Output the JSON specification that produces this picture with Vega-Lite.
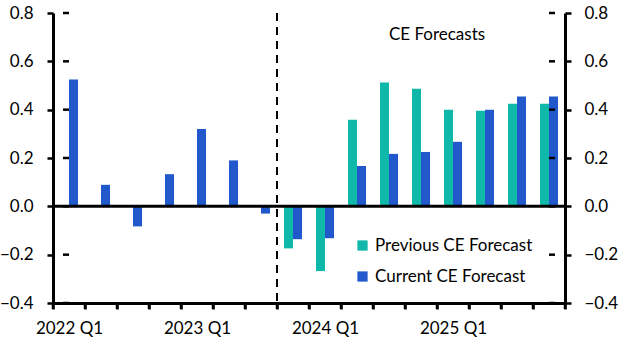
{
  "$schema": "https://vega.github.io/schema/vega-lite/v6.json",
  "width": 512,
  "height": 290,
  "autosize": "none",
  "padding": {"left": 53, "top": 13, "right": 64, "bottom": 51},
  "background": "white",
  "config": {
    "font": "Lato",
    "view": {"stroke": null},
    "axis": {"grid": false, "title": null, "ticks": true, "domain": true, "zindex": 1, "labelFont": "Lato", "labelFontSize": 17, "labelColor": "black", "domainColor": "black", "domainWidth": 3, "tickColor": "black", "tickWidth": 2.5, "tickOpacity": 1}
  },
  "datasets": {
    "bars": [
      {"quarter": "2022 Q1", "series": "Current CE Forecast", "value": 0.525},
      {"quarter": "2022 Q2", "series": "Current CE Forecast", "value": 0.089},
      {"quarter": "2022 Q3", "series": "Current CE Forecast", "value": -0.083},
      {"quarter": "2022 Q4", "series": "Current CE Forecast", "value": 0.133},
      {"quarter": "2023 Q1", "series": "Current CE Forecast", "value": 0.32},
      {"quarter": "2023 Q2", "series": "Current CE Forecast", "value": 0.19},
      {"quarter": "2023 Q3", "series": "Current CE Forecast", "value": -0.03},
      {"quarter": "2023 Q4", "series": "Previous CE Forecast", "value": -0.174},
      {"quarter": "2023 Q4", "series": "Current CE Forecast", "value": -0.136},
      {"quarter": "2024 Q1", "series": "Previous CE Forecast", "value": -0.268},
      {"quarter": "2024 Q1", "series": "Current CE Forecast", "value": -0.132},
      {"quarter": "2024 Q2", "series": "Previous CE Forecast", "value": 0.358},
      {"quarter": "2024 Q2", "series": "Current CE Forecast", "value": 0.167},
      {"quarter": "2024 Q3", "series": "Previous CE Forecast", "value": 0.512},
      {"quarter": "2024 Q3", "series": "Current CE Forecast", "value": 0.217},
      {"quarter": "2024 Q4", "series": "Previous CE Forecast", "value": 0.487},
      {"quarter": "2024 Q4", "series": "Current CE Forecast", "value": 0.225},
      {"quarter": "2025 Q1", "series": "Previous CE Forecast", "value": 0.4},
      {"quarter": "2025 Q1", "series": "Current CE Forecast", "value": 0.267},
      {"quarter": "2025 Q2", "series": "Previous CE Forecast", "value": 0.396},
      {"quarter": "2025 Q2", "series": "Current CE Forecast", "value": 0.4},
      {"quarter": "2025 Q3", "series": "Previous CE Forecast", "value": 0.425},
      {"quarter": "2025 Q3", "series": "Current CE Forecast", "value": 0.454},
      {"quarter": "2025 Q4", "series": "Previous CE Forecast", "value": 0.425},
      {"quarter": "2025 Q4", "series": "Current CE Forecast", "value": 0.454}
    ],
    "quarters": [
      {"quarter": "2022 Q1"}, {"quarter": "2022 Q2"}, {"quarter": "2022 Q3"}, {"quarter": "2022 Q4"},
      {"quarter": "2023 Q1"}, {"quarter": "2023 Q2"}, {"quarter": "2023 Q3"}, {"quarter": "2023 Q4"},
      {"quarter": "2024 Q1"}, {"quarter": "2024 Q2"}, {"quarter": "2024 Q3"}, {"quarter": "2024 Q4"},
      {"quarter": "2025 Q1"}, {"quarter": "2025 Q2"}, {"quarter": "2025 Q3"}, {"quarter": "2025 Q4"}
    ],
    "yticks": [
      {"t": -0.4}, {"t": -0.2}, {"t": 0}, {"t": 0.2}, {"t": 0.4}, {"t": 0.6}, {"t": 0.8}
    ]
  },
  "resolve": {"axis": {"y": "independent"}},
  "layer": [
    {
      "data": {"name": "bars"},
      "mark": {"type": "bar"},
      "encoding": {
        "x": {
          "field": "quarter", "type": "nominal",
          "scale": {"domain": ["2022 Q1","2022 Q2","2022 Q3","2022 Q4","2023 Q1","2023 Q2","2023 Q3","2023 Q4","2024 Q1","2024 Q2","2024 Q3","2024 Q4","2025 Q1","2025 Q2","2025 Q3","2025 Q4"], "paddingInner": 0, "paddingOuter": 0},
          "axis": {"labelAngle": 0, "ticks": true, "tickBand": "extent", "tickSize": 6, "labelPadding": 11, "labelExpr": "test(/Q1/, datum.value) ? datum.value : ''"}
        },
        "xOffset": {
          "field": "series", "type": "nominal",
          "scale": {"domain": ["Previous CE Forecast", "Current CE Forecast"], "paddingInner": 0, "paddingOuter": 0.78}
        },
        "y": {
          "field": "value", "type": "quantitative",
          "scale": {"domain": [-0.4, 0.8], "nice": false},
          "axis": {"orient": "left", "values": [-0.4, -0.2, 0, 0.2, 0.4, 0.6, 0.8], "ticks": true, "tickSize": 6, "labelPadding": 14, "format": ".1f"}
        },
        "color": {
          "field": "series", "type": "nominal",
          "scale": {"domain": ["Previous CE Forecast", "Current CE Forecast"], "range": ["#0fb8a9", "#2159cc"]},
          "legend": {"title": null, "orient": "none", "legendX": 301, "legendY": 224, "symbolType": "square", "symbolSize": 105, "symbolStrokeWidth": 0, "labelFontSize": 17, "labelFont": "Lato", "labelColor": "black", "labelOffset": 4, "rowPadding": 13}
        }
      }
    },
    {
      "data": {"values": [{"v": 0}]},
      "mark": {"type": "rule", "color": "black", "strokeWidth": 3},
      "encoding": {
        "y": {"field": "v", "type": "quantitative", "axis": {"orient": "right", "values": [-0.4, -0.2, 0, 0.2, 0.4, 0.6, 0.8], "ticks": true, "tickSize": 6, "labelPadding": 13, "format": ".1f"}}
      }
    },
    {
      "data": {"name": "quarters"},
      "mark": {"type": "rule", "color": "black", "strokeWidth": 2.5},
      "encoding": {
        "x": {"field": "quarter", "type": "nominal", "bandPosition": 0},
        "y": {"datum": -0.4, "type": "quantitative", "axis": null},
        "y2": {"datum": -0.425}
      }
    },
    {
      "data": {"values": [{"quarter": "2025 Q4"}]},
      "mark": {"type": "rule", "color": "black", "strokeWidth": 2.5},
      "encoding": {
        "x": {"field": "quarter", "type": "nominal", "bandPosition": 1},
        "y": {"datum": -0.4, "type": "quantitative", "axis": null},
        "y2": {"datum": -0.425}
      }
    },
    {
      "data": {"name": "yticks"},
      "mark": {"type": "tick", "orient": "horizontal", "size": 6, "thickness": 2.5, "color": "black", "opacity": 1, "xOffset": -3},
      "encoding": {
        "x": {"datum": "2022 Q1", "bandPosition": 0},
        "y": {"field": "t", "type": "quantitative", "axis": null}
      }
    },
    {
      "data": {"name": "yticks"},
      "mark": {"type": "tick", "orient": "horizontal", "size": 6, "thickness": 2.5, "color": "black", "opacity": 1, "xOffset": 3},
      "encoding": {
        "x": {"datum": "2025 Q4", "bandPosition": 1},
        "y": {"field": "t", "type": "quantitative", "axis": null}
      }
    },
    {
      "data": {"values": [{"quarter": "2023 Q4"}]},
      "mark": {"type": "rule", "color": "black", "strokeWidth": 2, "strokeDash": [8, 6]},
      "encoding": {
        "x": {"field": "quarter", "type": "nominal", "bandPosition": 0}
      }
    },
    {
      "data": {"values": [{"quarter": "2025 Q1", "v": 0.708, "label": "CE Forecasts"}]},
      "mark": {"type": "text", "fontSize": 17, "font": "Lato", "color": "black", "align": "center", "baseline": "middle"},
      "encoding": {
        "x": {"field": "quarter", "type": "nominal", "bandPosition": 0},
        "y": {"field": "v", "type": "quantitative", "axis": null},
        "text": {"field": "label"}
      }
    }
  ]
}
